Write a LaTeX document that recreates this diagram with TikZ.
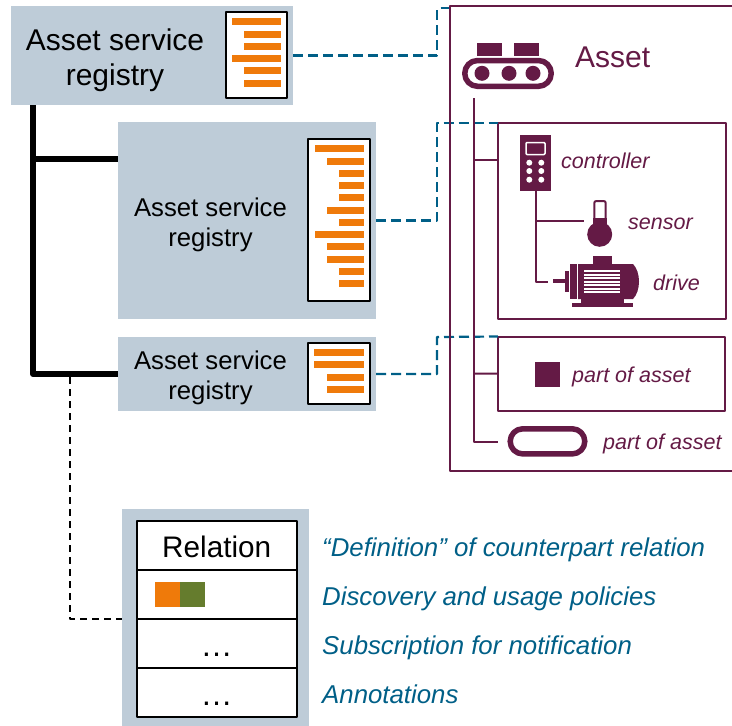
\documentclass[tikz,border=0pt]{standalone}
\usepackage{fontspec}
\setmainfont{Liberation Sans}
\definecolor{regblue}{HTML}{BECCD8}
\definecolor{barorange}{HTML}{EF7A0A}
\definecolor{pairgreen}{HTML}{657C2D}
\definecolor{linkblue}{HTML}{005F87}
\definecolor{assetred}{HTML}{641A45}
\tikzset{
	regbox/.style={fill=regblue, inner sep=0pt, outer sep=0pt},
	listbox/.style={draw=black, fill=white, line width=2pt, inner sep=0pt, outer sep=0pt},
	regtext/.style={align=center, inner sep=0pt, font=\fontsize{25.7}{30.5}\selectfont},
	parttext/.style={anchor=base west, inner sep=0pt, text=assetred, font=\fontsize{21.5}{25}\selectfont\itshape},
	infotext/.style={anchor=base west, inner sep=0pt, text=linkblue, font=\fontsize{25.8}{30}\selectfont\itshape},
	tabrow/.style={draw=black, fill=white, line width=2pt, minimum width=160pt, inner sep=0pt, outer sep=0pt},
	tabdots/.style={inner sep=0pt, anchor=base, font=\fontsize{32}{35}\selectfont},
	partbox/.style={draw=assetred, line width=2pt, inner sep=0pt, outer sep=0pt},
	assetline/.style={draw=assetred, line width=2pt},
	linkline/.style={draw=linkblue, line width=2.2pt, dash pattern=on 10pt off 5pt},
	treeline/.style={draw=black, line width=6pt},
}
\begin{document}
\begin{tikzpicture}[x=1pt, y=-1pt, line join=round]
	\useasboundingbox (0,0) rectangle (732,726);
	% registries
	\node[regbox, minimum width=282pt, minimum height=99pt] (regA) at (152,55.5) {};
	\node[regbox, minimum width=258pt, minimum height=197pt] (regB) at (247,220.5) {};
	\node[regbox, minimum width=258pt, minimum height=74pt] (regC) at (247,374) {};
	\node[regbox, minimum width=187pt, minimum height=217pt] (relback) at (215.5,617.5) {};
	\node[regtext, font=\fontsize{30}{35}\selectfont] (regAtext) at (115,60) {Asset service\\registry};
	\node[regtext] (regBtext) at (210.5,225) {Asset service\\registry};
	\node[regtext] (regCtext) at (210.5,378) {Asset service\\registry};
	% lists
	\node[listbox, minimum width=61pt, minimum height=86pt] (docA) at (256.5,55) {};
	\node[listbox, minimum width=62pt, minimum height=162pt] (docB) at (339,220) {};
	\node[listbox, minimum width=62pt, minimum height=61pt] (docC) at (339,373.5) {};
	\foreach \l/\y in {232/21.3,244/34.3,244/46.3,232/58.3,244/70.3,244/83.3}
		\fill[barorange] (\l,\y-3.5) rectangle (281,\y+3.5);
	\foreach \l/\y in {315/148.3,327/161.3,339/173.3,339/185.3,339/197.3,327/210.3,339/222.3,315/234.3,327/246.3,327/259.3,339/271.3,339/283.3}
		\fill[barorange] (\l,\y-3.5) rectangle (364,\y+3.5);
	\foreach \l/\y in {314/352.3,314/364.3,327/377.3,327/389.3}
		\fill[barorange] (\l,\y-3.5) rectangle (364,\y+3.5);
	% asset frame and boxes
	\node[inner sep=0pt, outer sep=0pt, minimum width=282pt, minimum height=465pt] (asset) at (591,238.5) {};
	\node[partbox, minimum width=228pt, minimum height=196pt] (ctrlbox) at (612,221) {};
	\node[partbox, minimum width=227pt, minimum height=74pt] (partbox) at (611.5,373.5) {};
	\coordinate (linkA) at (450,8);
	\draw[linkline] (regA.east) -| (437,8) -- (linkA);
	\draw[linkline] (regB.east) -| (437,123) -- (ctrlbox.north west);
	\draw[linkline] (regC.east) -| (437,337) -- (partbox.north west);
	\draw[assetline] (asset.north east) -- (asset.north west) -- (asset.south west) -- (asset.south east);
	% tree of registries
	\coordinate (treetop) at (33,105);
	\coordinate (treeend) at (33,374);
	\draw[treeline] (treetop) -- (treeend) -- (regC.west);
	\draw[treeline] (33,159) -- (118,159);
	\draw[draw=black, line width=2pt, dash pattern=on 7pt off 5pt] (70,377) -- (70,619) -- (122,619);
	% table
	\node[tabrow, minimum height=49.3pt] (relhead) at (216.7,545.4) {};
	\node[tabrow, minimum height=48.7pt] (relpair) at (216.7,594.4) {};
	\node[tabrow, minimum height=49pt] (reldotsA) at (216.7,643.2) {};
	\node[tabrow, minimum height=49.3pt] (reldotsB) at (216.7,692.4) {};
	\node[inner sep=0pt, anchor=base, font=\fontsize{29.7}{30}\selectfont] (reltext) at (216.7,557.3) {Relation};
	\fill[barorange] (155,582) rectangle (180,607);
	\fill[pairgreen] (180,582) rectangle (205,607);
	\node[tabdots] (dotsA) at (216.7,656) {…};
	\node[tabdots] (dotsB) at (216.7,705) {…};
	\node[infotext] (infoA) at (322,556) {“Definition” of counterpart relation};
	\node[infotext] (infoB) at (322,605) {Discovery and usage policies};
	\node[infotext] (infoC) at (322,654) {Subscription for notification};
	\node[infotext] (infoD) at (322,703) {Annotations};
	% conveyor
	\fill[assetred] (477,43) rectangle (502,56);
	\fill[assetred] (514,43) rectangle (539,56);
	\draw[assetred, line width=5.5pt, rounded corners=12.7pt] (464.8,60.5) rectangle (551.2,86.3);
	\foreach \x in {482,509,533}
		\fill[assetred] (\x,73.3) circle (7.5pt);
	\node[inner sep=0pt, anchor=base west, text=assetred, font=\fontsize{30}{35}\selectfont] (assettext) at (575,67.3) {Asset};
	% tree of asset
	\coordinate (parttop) at (474,98);
	\coordinate (partend) at (474,442);
	\coordinate (pillend) at (498,442);
	\draw[assetline] (parttop) -- (partend) -- (pillend);
	\draw[assetline] (474,160) -- (498,160);
	\draw[assetline] (474,373.7) -- (partbox.west);
	% controller
	\fill[assetred] (520,135) rectangle (551,191);
	\draw[white, line width=1.5pt, rounded corners=1pt] (526,142.5) rectangle (545,154.5);
	\foreach \y in {162.7,171,179.7}
		\foreach \x in {529.3,541.3}
			\fill[white] (\x,\y) circle (3pt);
	\node[parttext] (ctrltext) at (561,168.3) {controller};
	\coordinate (ctrlend) at (535.5,191);
	\coordinate (sensend) at (584,220.7);
	\coordinate (drivend) at (548,282.3);
	\draw[assetline] (ctrlend) |- (drivend);
	\draw[assetline] (535.5,220.7) -- (sensend);
	% sensor
	\draw[assetred, line width=2pt, rounded corners=2pt, fill=white] (594.3,222) -- (594.3,201) -- (605.7,201) -- (605.7,222);
	\fill[assetred] (593.3,218) rectangle (606.7,228);
	\fill[assetred] (599.7,234.3) circle (12.5pt);
	\node[parttext] (senstext) at (628,229.3) {sensor};
	% drive
	\fill[assetred] (553,279) rectangle (565,283);
	\fill[assetred] (565,271) rectangle (569,292);
	\fill[assetred] (570,264) rectangle (577,299);
	\fill[assetred] (578,264) -- (633,264) .. controls (641,272) and (641,291) .. (633,299) -- (578,299) -- cycle;
	\fill[assetred] (593,256) rectangle (612,264);
	\fill[assetred] (581,299) rectangle (624,303);
	\fill[assetred] (572,302.7) rectangle (633,306.7);
	\foreach \y in {271,274.5,278,281.5,285,288.5,292}
		\draw[white, line width=2pt] (584,\y) -- (620,\y);
	\node[parttext] (drivetext) at (653,290.7) {drive};
	% parts
	\fill[assetred] (535,362) rectangle (560,387);
	\node[parttext] (parttextA) at (572,382.7) {part of asset};
	\draw[assetred, line width=5.5pt, rounded corners=12.5pt] (510.2,428.8) rectangle (584.8,453.9);
	\node[parttext] (parttextB) at (603,449.3) {part of asset};
\end{tikzpicture}
\end{document}
